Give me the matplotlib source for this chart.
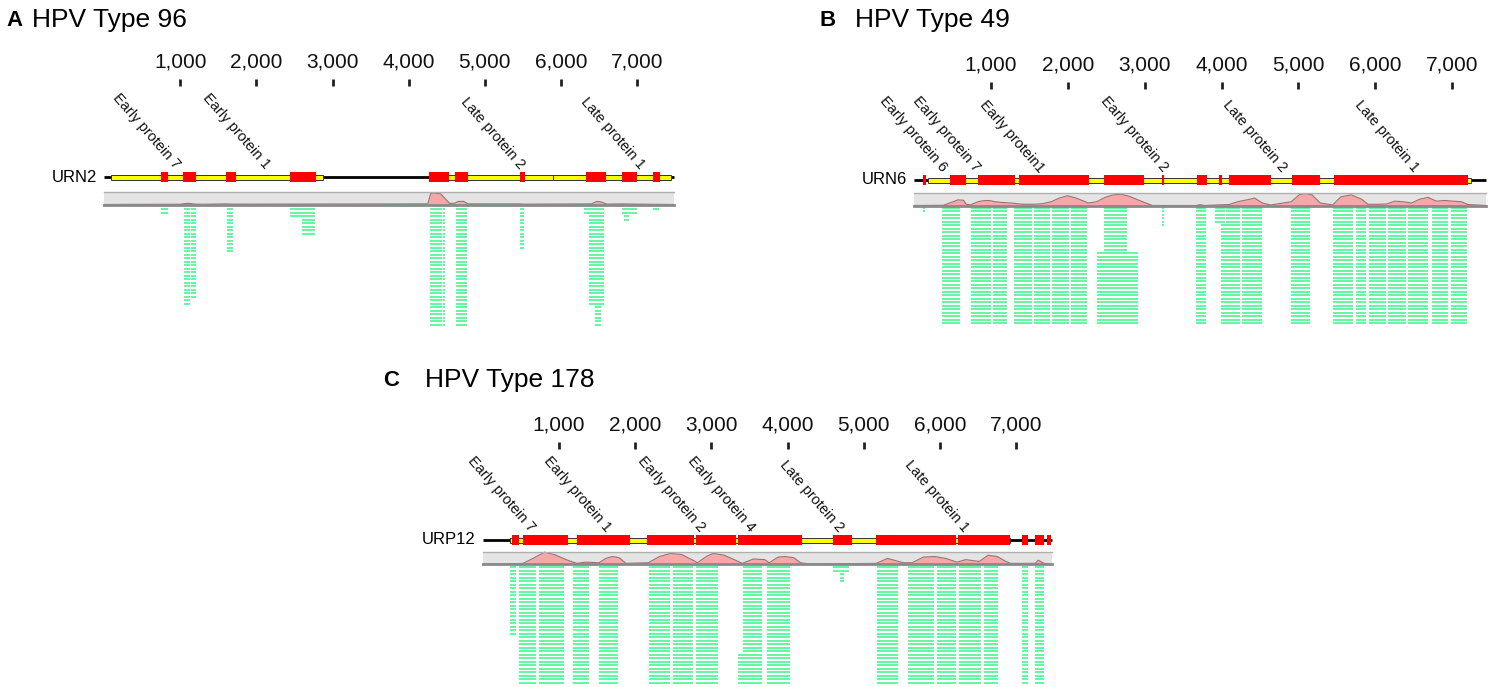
import matplotlib
matplotlib.use("Agg")
import matplotlib.pyplot as plt
from matplotlib.patches import Rectangle

plt.rcParams['font.family'] = ['Liberation Sans', 'DejaVu Sans']

# ---------------- data (genome positions in bp) ----------------
ticks = [1000, 2000, 3000, 4000, 5000, 6000, 7000]
tick_labels = ["1,000", "2,000", "3,000", "4,000", "5,000", "6,000", "7,000"]

# Panel A: HPV Type 96 / URN2
a_len = 7480
a_yellow = [(90, 2875), (4272, 5893), (5893, 7443)]
a_red = [(749, 843), (1042, 1206), (1606, 1730), (2439, 2780), (4272, 4535),
         (4612, 4777), (5459, 5529), (6328, 6592), (6797, 7002), (7206, 7295)]
a_gene_names = ["Early protein 7", "Early protein 1", "Late protein 2", "Late protein 1"]
a_gene_pos = [925, 2100, 5446, 7031]
a_cov_x = [0, 700, 1000, 1100, 1200, 1300, 1600, 1700, 4250, 4290, 4330, 4420, 4480,
           4540, 4600, 4650, 4720, 4780, 5450, 5520, 6400, 6470, 6530, 6600, 6800, 7000, 7480]
a_cov_y = [0, 0.02, 0.02, 0.1, 0.03, 0.02, 0.05, 0.03, 0.05, 0.9, 0.92, 0.85, 0.45,
           0.08, 0.1, 0.25, 0.25, 0.05, 0.05, 0.03, 0.05, 0.25, 0.2, 0.03, 0.05, 0.03, 0]
# reads: (start, end, first row, number of rows)
a_reads = [(750, 843, 0, 2), (1042, 1130, 0, 28), (1135, 1206, 0, 26), (1606, 1700, 0, 13),
           (2439, 2598, 0, 3), (2600, 2774, 0, 8), (4272, 4436, 0, 34), (4445, 4480, 0, 34),
           (4623, 4770, 0, 34), (5459, 5517, 0, 12), (6298, 6563, 0, 2), (6357, 6563, 2, 26),
           (6445, 6533, 28, 6), (6797, 7002, 0, 2), (6820, 6900, 2, 2), (7206, 7295, 0, 1)]

# Panel B: HPV Type 49 / URN6
b_len = 7442
b_yellow = [(180, 7253)]
b_red = [(110, 148), (460, 676), (828, 1308), (1361, 2278), (2471, 2994), (3227, 3253),
         (3680, 3809), (3965, 4003), (4100, 4639), (4919, 5286), (5464, 7211)]
b_gene_names = ["Early protein 6", "Early protein 7", "Early protein1", "Early protein 2",
                "Late protein 2", "Late protein 1"]
b_gene_pos = [353, 785, 1620, 3237, 4774, 6499]
b_cov_x = [0, 380, 461, 569, 640, 677, 730, 828, 893, 973, 1054, 1135, 1297, 1404, 1566,
           1674, 1782, 1890, 1997, 2105, 2267, 2375, 2483, 2590, 2698, 2806, 2994, 3100,
           3669, 3720, 3776, 4100, 4208, 4370, 4430, 4531, 4639, 4908, 5016, 5097, 5178,
           5286, 5448, 5556, 5691, 5825, 5906, 6041, 6149, 6257, 6365, 6473, 6581, 6689,
           6796, 6904, 7012, 7120, 7211, 7442]
b_cov_y = [0, 0.02, 0.2, 0.45, 0.42, 0.1, 0.05, 0.3, 0.38, 0.4, 0.3, 0.25, 0.18, 0.1,
           0.1, 0.15, 0.3, 0.6, 0.78, 0.6, 0.2, 0.3, 0.65, 0.85, 0.9, 0.72, 0.25, 0,
           0, 0.07, 0, 0.08, 0.3, 0.5, 0.6, 0.2, 0.04, 0.3, 0.88, 0.95, 0.85, 0.2, 0.05,
           0.7, 0.85, 0.5, 0.1, 0.1, 0.12, 0.35, 0.3, 0.2, 0.5, 0.65, 0.35, 0.4, 0.35,
           0.3, 0.08, 0]
b_reads = [(110, 137, 0, 2), (354, 596, 0, 34), (731, 1000, 0, 34), (1027, 1215, 0, 34),
           (1296, 1539, 0, 34), (1555, 1771, 0, 34), (1793, 2024, 0, 34), (2040, 2256, 0, 34),
           (2471, 2768, 0, 13), (2375, 2913, 13, 21), (3227, 3253, 0, 6), (3658, 3803, 0, 34),
           (3911, 4046, 0, 5), (3992, 4245, 5, 29), (4050, 4245, 0, 5), (4261, 4531, 0, 34),
           (4898, 5151, 0, 34), (5448, 5717, 0, 34), (5745, 5890, 0, 34), (5922, 6149, 0, 34),
           (6165, 6408, 0, 34), (6430, 6699, 0, 34), (6742, 6958, 0, 34), (6985, 7200, 0, 34)]

# Panel C: HPV Type 178 / URP12
c_len = 7463
c_yellow = [(355, 6923)]
c_red = [(390, 472), (531, 1117), (1234, 1938), (2161, 2771), (2800, 3322), (3345, 4184),
         (4589, 4841), (5164, 6208), (6232, 6912), (7070, 7158), (7246, 7364), (7405, 7452)]
c_gene_names = ["Early protein 7", "Early protein 1", "Early protein 2", "Early protein 4",
                "Late protein 2", "Late protein 1"]
c_gene_pos = [619, 1616, 2848, 3493, 4666, 6308]
c_cov_x = [0, 413, 531, 677, 812, 941, 1117, 1235, 1352, 1528, 1616, 1704, 1792, 1880,
           2173, 2320, 2466, 2613, 2759, 2818, 2935, 3023, 3170, 3317, 3405, 3552, 3699,
           3758, 3876, 3964, 4081, 4169, 4300, 5164, 5311, 5399, 5516, 5633, 5780, 5926,
           6073, 6220, 6337, 6513, 6630, 6748, 6865, 6923, 7246, 7287, 7364, 7463]
c_cov_y = [0, 0.02, 0.05, 0.5, 0.95, 0.75, 0.3, 0.05, 0.15, 0.1, 0.45, 0.6, 0.5, 0.05,
           0.1, 0.6, 0.85, 0.75, 0.3, 0.1, 0.6, 0.85, 0.7, 0.3, 0.05, 0.4, 0.35,
           0.1, 0.55, 0.6, 0.5, 0.1, 0, 0.05, 0.45, 0.3, 0.1, 0.1, 0.55, 0.6,
           0.45, 0.15, 0.35, 0.2, 0.7, 0.6, 0.2, 0.05, 0.05, 0.3, 0.05, 0]
c_reads = [(355, 443, 0, 20), (472, 707, 0, 34), (736, 1070, 0, 34), (1188, 1399, 0, 34),
           (1516, 1780, 0, 34), (2173, 2466, 0, 34), (2495, 2759, 0, 34), (2801, 3094, 0, 34),
           (3345, 3416, 25, 9), (3416, 3668, 0, 34), (3727, 4038, 0, 34), (4589, 4812, 0, 2),
           (4680, 4740, 2, 3), (5164, 5457, 0, 34), (5574, 5926, 0, 34), (5955, 6219, 0, 34),
           (6249, 6543, 0, 34), (6572, 6759, 0, 34), (7070, 7158, 0, 34), (7246, 7364, 0, 34)]

# ---------------- layout (pixels) ----------------
W, H = 1488, 687
fig = plt.figure(figsize=(W / 100, H / 100), dpi=100)

RED = '#ff0000'
YELLOW = '#ffff00'
GREEN = '#52f598'
PINK = '#f6a8a8'


def panel(box, zero_px, px_per_bp, track_px, name, glen, yellow, red, names, pos,
          cov_x, cov_y, reads, band_top, reads_top):
    x0, x1, y0, y1 = box
    ax = fig.add_axes([x0 / W, 1 - y1 / H, (x1 - x0) / W, (y1 - y0) / H])
    ax.set_xlim((x0 - zero_px) / px_per_bp, (x1 - zero_px) / px_per_bp)
    ax.set_ylim(y1 - track_px, y0 - track_px)
    ax.axis('off')

    # ruler
    ax.vlines(ticks, -98, -91, color='#222222', lw=2)
    for t, lab in zip(ticks, tick_labels):
        ax.text(t, -115, lab, ha='center', va='center', fontsize=15, color='#111111')

    # genome backbone, segments and genes
    ax.plot([0, glen], [0, 0], color='black', lw=2, solid_capstyle='butt', zorder=1)
    for s, e in yellow:
        ax.add_patch(Rectangle((s, -2.5), e - s, 5.0, facecolor=YELLOW,
                               edgecolor='#333333', lw=0.7, zorder=2))
    for s, e in red:
        ax.add_patch(Rectangle((s, -4.6), e - s, 9.2, facecolor=RED,
                               edgecolor='none', zorder=3))
    for n, p in zip(names, pos):
        ax.text(p, -7, n, rotation=-49, rotation_mode='anchor', ha='right',
                va='baseline', fontsize=10.5, color='#111111')
    ax.text(-7 / px_per_bp, 0, name, ha='right', va='center', fontsize=12)

    # coverage band
    bh = 12.5
    bb = band_top + bh
    ax.add_patch(Rectangle((0, band_top), glen, bh, facecolor='#e4e4e4',
                           edgecolor='none', zorder=1))
    ax.fill_between(cov_x, bb, [bb - bh * v for v in cov_y], color=PINK, lw=0, zorder=2)
    ax.plot(cov_x, [bb - bh * v for v in cov_y], color='#9a7070', lw=0.8, zorder=3)
    ax.plot([0, glen], [band_top, band_top], color='#b0b0b0', lw=1, zorder=4)
    ax.plot([0, glen], [bb, bb], color='#8a8a8a', lw=2, zorder=4)

    # reads
    ys, xs, xe = [], [], []
    for s, e, r0, n in reads:
        for r in range(r0, r0 + n):
            ys.append(reads_top + r * 3.5)
            xs.append(s + 4)
            xe.append(e - 4)
    ax.hlines(ys, xs, xe, color=GREEN, lw=1.25)
    return ax


panel((0, 744, 0, 345), 104.0, 0.07618, 177, "URN2", a_len, a_yellow, a_red,
      a_gene_names, a_gene_pos, a_cov_x, a_cov_y, a_reads, 15, 32)
panel((744, 1488, 0, 345), 914.3, 0.0768, 180, "URN6", b_len, b_yellow, b_red,
      b_gene_names, b_gene_pos, b_cov_x, b_cov_y, b_reads, 13, 27.5)
panel((380, 1100, 345, 687), 482.6, 0.07625, 540, "URP12", c_len, c_yellow, c_red,
      c_gene_names, c_gene_pos, c_cov_x, c_cov_y, c_reads, 11.5, 27)

# panel titles
titles = [("A", "HPV Type 96", 6, 32, 20), ("B", "HPV Type 49", 820, 855, 20),
          ("C", "HPV Type 178", 383, 425, 380)]
for letter, title, lx, tx, ty in titles:
    fig.text(lx / W, 1 - ty / H, letter, fontsize=16, fontweight='bold', va='center')
    fig.text(tx / W, 1 - ty / H, title, fontsize=19, va='center')

fig.savefig("out.png", dpi=100)
